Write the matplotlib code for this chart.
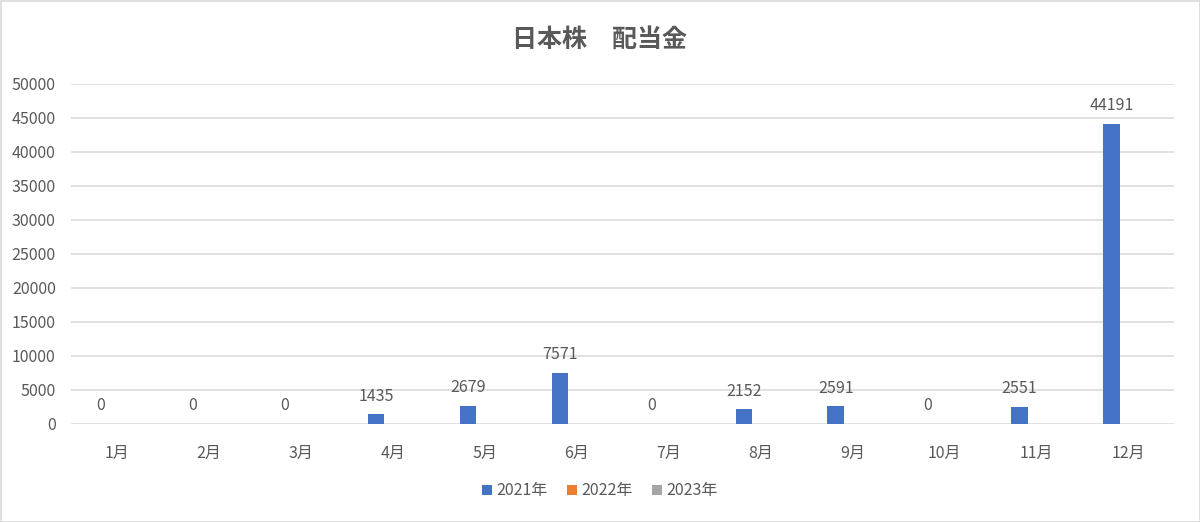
import numpy as np
import matplotlib
matplotlib.use("Agg")
import matplotlib.pyplot as plt
from matplotlib.patches import Rectangle

plt.rcParams['font.family'] = ['Noto Sans CJK JP', 'DejaVu Sans']

months = ["1月", "2月", "3月", "4月", "5月", "6月", "7月", "8月", "9月", "10月", "11月", "12月"]
series_names = ["2021年", "2022年", "2023年"]
div_2021 = [0, 0, 0, 1435, 2679, 7571, 0, 2152, 2591, 0, 2551, 44191]
div_2022 = [0] * 12
div_2023 = [0] * 12
colors = ["#4472C4", "#ED7D31", "#A5A5A5"]
text_color = "#595959"

fig = plt.figure(figsize=(12, 5.22), dpi=100)
fig.patches.append(Rectangle((0.5 / 1200, 0.5 / 522), 1 - 1 / 1200, 1 - 1 / 522,
                             transform=fig.transFigure, fill=False,
                             edgecolor="#d9d9d9", linewidth=1.2))
ax = fig.add_axes([71 / 1200, 98 / 522, 1103 / 1200, 340 / 522])

x = np.arange(len(months))
w = 0.18
handles = []
for i, (vals, name) in enumerate(zip([div_2021, div_2022, div_2023], series_names)):
    b = ax.bar(x + (i - 1) * w, vals, width=w, color=colors[i], label=name, zorder=3)
    handles.append(b)

for xi, v in zip(x - w, div_2021):
    ax.annotate(f"{v}", (xi, v), xytext=(0, 7), textcoords="offset points",
                ha="center", va="bottom", fontsize=11.5, color=text_color)

ax.set_xlim(-0.5, 11.5)
ax.set_ylim(0, 50000)
ax.set_yticks(np.arange(0, 50001, 5000))
ax.yaxis.grid(True, color="#d9d9d9", linewidth=1.1, zorder=0)
ax.set_axisbelow(True)
for s in ax.spines.values():
    s.set_visible(False)
ax.set_xticks(x)
ax.set_xticklabels(months)
ax.tick_params(axis="both", length=0, colors=text_color, labelsize=11.5)
ax.tick_params(axis="x", pad=15)
ax.tick_params(axis="y", pad=11)

fig.text(0.5, 1 - 40 / 522, "日本株　配当金", ha="center", va="center",
         fontsize=18, fontweight="bold", color=text_color)

leg = fig.legend(handles=handles, labels=series_names, loc="center",
                 bbox_to_anchor=(0.5, 1 - 491 / 522), ncol=3, frameon=False,
                 fontsize=11.5, handlelength=0.6, handleheight=0.6,
                 handletextpad=0.3, columnspacing=1.2)
for t in leg.get_texts():
    t.set_color(text_color)

fig.savefig("out.png", dpi=100)
